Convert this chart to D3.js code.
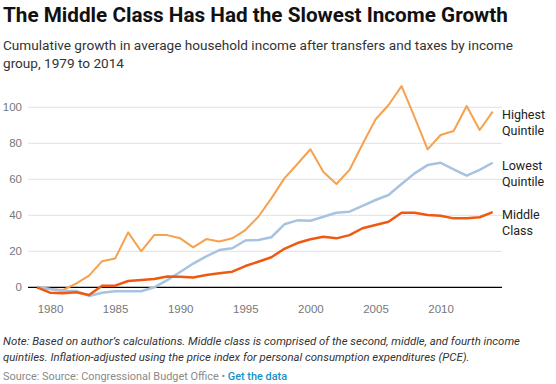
<!DOCTYPE html>
<meta charset="utf-8">
<style>
  body { margin: 0; background: #fff; font-family: Roboto, "Noto Sans", sans-serif; }
  .grid line { stroke: #e2e2e2; }
  .tick text { fill: #777; font-size: 11.5px; }
</style>
<body>
<script src="https://d3js.org/d3.v7.min.js"></script>
<script>

// data
var years = d3.range(1979, 2015);
var highest = [0, -1, -1.5, 2, 6.5, 14.5, 16, 30.5, 20, 29, 29,
  27.2, 22.2, 26.8, 25.4, 27.2, 31.8, 39.2, 49.4, 60.5, 68.5,
  76.7, 64, 57.4, 65.2, 79.5, 93.2, 101.3, 111.8, 94.5, 76.6,
  84.6, 86.8, 100.7, 87.4, 97.6];
var lowest = [0, -1, -2, -2, -4.8, -3, -2.2, -2.2, -2.2, 0, 4,
  8.5, 13.2, 17.2, 20.7, 21.7, 26, 26.3, 27.8, 35, 37.2,
  37, 39.2, 41.4, 42, 45.2, 48.5, 51.3, 57.4, 63.3, 67.9,
  69.2, 65.5, 62, 65.2, 69.2];
var middle = [0, -3, -3.3, -2.8, -4.3, 0.9, 0.9, 3.5, 4, 4.6, 6,
  5.9, 5.5, 6.8, 7.8, 8.7, 11.8, 14.2, 16.7, 21.4, 24.6,
  26.7, 28.1, 27.2, 29, 32.8, 34.6, 36.4, 41.4, 41.4, 40.2,
  39.8, 38.3, 38.3, 38.9, 41.8];
var xTicks = [1980, 1985, 1990, 1995, 2000, 2005, 2010];
var yTicks = [0, 20, 40, 60, 80, 100];

var series = [
  {name: ["Highest", "Quintile"], values: highest, color: "#f6a14d", width: 2},
  {name: ["Lowest", "Quintile"], values: lowest, color: "#a8c3e2", width: 2.5},
  {name: ["Middle", "Class"], values: middle, color: "#ee5a12", width: 2.5}
];

var width = 556, height = 384;

var svg = d3.select("body").append("svg")
    .attr("width", width)
    .attr("height", height);

var x = d3.scaleLinear().domain([1979, 2014]).range([37, 492.7]);
var y = d3.scaleLinear().domain([0, 100]).range([287.3, 107.3]);

// title + subtitle
svg.append("text")
    .attr("x", 3).attr("y", 22)
    .attr("font-size", 20.7).attr("font-weight", "bold")
    .attr("fill", "#111")
    .text("The Middle Class Has Had the Slowest Income Growth");

svg.append("text")
    .attr("x", 3).attr("y", 50)
    .attr("font-size", 13.6).attr("fill", "#333")
    .text("Cumulative growth in average household income after transfers and taxes by income");
svg.append("text")
    .attr("x", 3).attr("y", 68)
    .attr("font-size", 13.6).attr("fill", "#333")
    .text("group, 1979 to 2014");

// gridlines
svg.append("g")
    .attr("class", "grid")
  .selectAll("line")
  .data(yTicks.filter(function(d) { return d > 0; }))
  .enter().append("line")
    .attr("x1", 28).attr("x2", 502)
    .attr("y1", function(d) { return y(d); })
    .attr("y2", function(d) { return y(d); });

// y axis labels
var yAxis = svg.append("g")
    .attr("transform", "translate(22,0)")
    .call(d3.axisLeft(y).tickValues(yTicks).tickSize(0).tickPadding(0));
yAxis.select(".domain").remove();

// x axis labels
var xAxis = svg.append("g")
    .attr("transform", "translate(0,305)")
    .call(d3.axisBottom(x).tickValues(xTicks).tickFormat(d3.format("d")).tickSize(0).tickPadding(0));
xAxis.select(".domain").remove();

// zero line
svg.append("line")
    .attr("x1", 28).attr("x2", 502)
    .attr("y1", y(0)).attr("y2", y(0))
    .attr("stroke", "#000").attr("stroke-width", 1.2);

var line = d3.line()
    .x(function(d, i) { return x(years[i]); })
    .y(function(d) { return y(d); });

svg.append("g")
  .selectAll("path")
  .data(series)
  .enter().append("path")
    .attr("d", function(d) { return line(d.values); })
    .attr("fill", "none")
    .attr("stroke", function(d) { return d.color; })
    .attr("stroke-width", function(d) { return d.width; })
    .attr("stroke-linejoin", "round");

// series labels
var labelY = [119, 170, 219];
var lab = svg.append("g")
  .selectAll("text")
  .data(series)
  .enter().append("text")
    .attr("x", 502)
    .attr("y", function(d, i) { return labelY[i]; })
    .attr("font-size", 12.5).attr("fill", "#222");
lab.selectAll("tspan")
  .data(function(d) { return d.name; })
  .enter().append("tspan")
    .attr("x", 502)
    .attr("dy", function(d, i) { return i ? 16 : 0; })
    .text(function(d) { return d; });

// note + source
svg.append("text")
    .attr("x", 3).attr("y", 345)
    .attr("font-size", 11.4).attr("font-style", "italic").attr("fill", "#333")
    .text("Note: Based on author\u2019s calculations. Middle class is comprised of the second, middle, and fourth income");
svg.append("text")
    .attr("x", 3).attr("y", 361)
    .attr("font-size", 11.4).attr("font-style", "italic").attr("fill", "#333")
    .text("quintiles. Inflation-adjusted using the price index for personal consumption expenditures (PCE).");

var src = svg.append("text")
    .attr("x", 3).attr("y", 380)
    .attr("font-size", 10.9).attr("fill", "#8a8a8a");
src.append("tspan").text("Source: Source: Congressional Budget Office \u2022 ");
src.append("tspan").attr("fill", "#1a8fc4").attr("font-weight", 500).text("Get the data");

</script>
</body>
